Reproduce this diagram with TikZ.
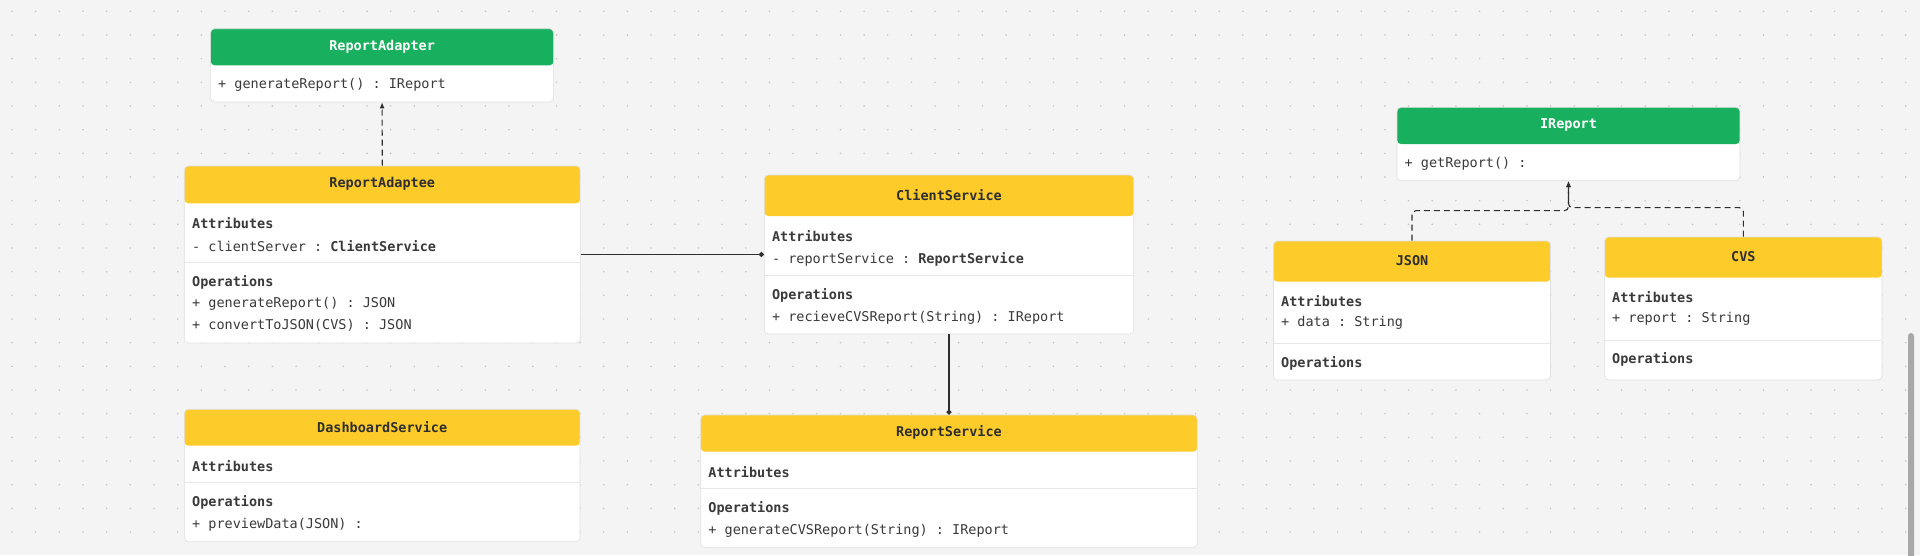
\documentclass[tikz,border=0pt]{standalone}
\usepackage{fontspec}
\setmonofont{DejaVu Sans Mono}
\usetikzlibrary{positioning,arrows.meta}
\definecolor{bgcol}{HTML}{F4F4F4}
\definecolor{dotcol}{HTML}{C6C6C6}
\definecolor{boxline}{HTML}{E0E0E0}
\definecolor{sepline}{HTML}{E6E6E6}
\definecolor{greenhd}{HTML}{18B05E}
\definecolor{yellowhd}{HTML}{FDCC2A}
\definecolor{ink}{HTML}{2E2E2E}
\definecolor{rowtext}{HTML}{3A3A3A}
\definecolor{scrollcol}{HTML}{A8A8A8}

\begin{document}
\begin{tikzpicture}[x=1pt, y=-1pt,
    font=\ttfamily\fontsize{13.5}{16}\selectfont,
    box/.style={draw=boxline, fill=white, line width=0.7pt, rounded corners=4pt, inner sep=0pt},
    head/.style 2 args={path picture={\fill[#1] (path picture bounding box.north west) rectangle ([yshift=-#2pt]path picture bounding box.north east);}},
    title/.style={font=\ttfamily\bfseries\fontsize{13.5}{16}\selectfont, text=ink},
    row/.style={anchor=west, inner sep=0pt, text=rowtext},
    sep/.style={draw=sepline, line width=0.8pt},
    conn/.style={draw=ink, line width=1.1pt},
    realize/.style={conn, dash pattern=on 6pt off 4pt, -{Latex[length=6pt,width=5pt]}},
    assoc/.style={conn, -{Circle[length=5pt]}}]
% background with dot grid
\fill[bgcol] (0,0) rectangle (1920,555);
\useasboundingbox (0,0) rectangle (1920,555);
\foreach \i in {0,...,80}
    \foreach \j in {0,...,22}
        \fill[dotcol] (12+23.67*\i, 11.3+23.67*\j) circle (0.9pt);
\fill[scrollcol, rounded corners=3pt] (1908,333) rectangle (1914,560);

% ReportAdapter
\node[box, head={greenhd}{36.6}, minimum width=343pt, minimum height=73.3pt] (adapter) at (382.1,65.3) {};
\node[title, text=white] (adapter-t) at ([yshift=-18.3pt]adapter.north) {ReportAdapter};
\node[row] (adapter-o1) at (218,85) {+ generateReport() : IReport};

% ReportAdaptee
\node[box, head={yellowhd}{37.3}, minimum width=396pt, minimum height=177pt] (adaptee) at (382.3,254.5) {};
\node[title] (adaptee-t) at ([yshift=-18.6pt]adaptee.north) {ReportAdaptee};
\node[row] (adaptee-a) at (192,222.7) {\textbf{Attributes}};
\node[row] (adaptee-a1) at (192,245.7) {- clientServer : \textbf{ClientService}};
\draw[sep] (184.4,262.3) -- (580.3,262.3);
\node[row] (adaptee-o) at (192,282.3) {\textbf{Operations}};
\node[row] (adaptee-o1) at (192,304.3) {+ generateReport() : JSON};
\node[row] (adaptee-o2) at (192,325.7) {+ convertToJSON(CVS) : JSON};

% DashboardService
\node[box, head={yellowhd}{36.4}, minimum width=395.7pt, minimum height=132.4pt] (dashboard) at (382.2,475.5) {};
\node[title] (dashboard-t) at ([yshift=-18.2pt]dashboard.north) {DashboardService};
\node[row] (dashboard-a) at (192,465.7) {\textbf{Attributes}};
\draw[sep] (184.3,482.3) -- (580,482.3);
\node[row] (dashboard-o) at (192,502.3) {\textbf{Operations}};
\node[row] (dashboard-o1) at (192,525) {+ previewData(JSON) :};

% ClientService
\node[box, head={yellowhd}{41}, minimum width=369.4pt, minimum height=159pt] (client) at (949,254.5) {};
\node[title] (client-t) at ([yshift=-20.5pt]client.north) {ClientService};
\node[row] (client-a) at (771.8,236) {\textbf{Attributes}};
\node[row] (client-a1) at (771.8,259) {- reportService : \textbf{ReportService}};
\draw[sep] (764.3,275.3) -- (1133.7,275.3);
\node[row] (client-o) at (771.8,295.7) {\textbf{Operations}};
\node[row] (client-o1) at (771.8,317.7) {+ recieveCVSReport(String) : IReport};

% ReportService
\node[box, head={yellowhd}{36.7}, minimum width=496.6pt, minimum height=132.7pt] (service) at (949,481.3) {};
\node[title] (service-t) at ([yshift=-18.3pt]service.north) {ReportService};
\node[row] (service-a) at (708.2,471.7) {\textbf{Attributes}};
\draw[sep] (700.7,488.3) -- (1197.3,488.3);
\node[row] (service-o) at (708.2,508.3) {\textbf{Operations}};
\node[row] (service-o1) at (708.2,530.7) {+ generateCVSReport(String) : IReport};

% IReport
\node[box, head={greenhd}{36.7}, minimum width=343pt, minimum height=73.4pt] (ireport) at (1568.5,144) {};
\node[title, text=white] (ireport-t) at ([yshift=-18.3pt]ireport.north) {IReport};
\node[row] (ireport-o1) at (1404.5,164) {+ getReport() :};

% JSON
\node[box, head={yellowhd}{40.7}, minimum width=277pt, minimum height=139pt] (json) at (1412,310.5) {};
\node[title] (json-t) at ([yshift=-20.3pt]json.north) {JSON};
\node[row] (json-a) at (1281,300.7) {\textbf{Attributes}};
\node[row] (json-a1) at (1281,323.3) {+ data : String};
\draw[sep] (1273.5,343.3) -- (1550.4,343.3);
\node[row] (json-o) at (1281,363.3) {\textbf{Operations}};

% CVS
\node[box, head={yellowhd}{40.7}, minimum width=277.3pt, minimum height=143pt] (cvs) at (1743.4,308.5) {};
\node[title] (cvs-t) at ([yshift=-20.3pt]cvs.north) {CVS};
\node[row] (cvs-a) at (1612,297) {\textbf{Attributes}};
\node[row] (cvs-a1) at (1612,319.3) {+ report : String};
\draw[sep] (1604.7,340.3) -- (1882,340.3);
\node[row] (cvs-o) at (1612,359.3) {\textbf{Operations}};

% connectors
\draw[realize] (adaptee.north) -- (adapter.south);
\draw[assoc] (adaptee.east) -- (client.west);
\draw[assoc] (client.south) -- (service.north);
\draw[realize, rounded corners=4pt] (json.north) -- ++(0,-30) -| (ireport.south);
\draw[realize, rounded corners=4pt] (cvs.north) -- ++(0,-29) -| (ireport.south);
\end{tikzpicture}
\end{document}
